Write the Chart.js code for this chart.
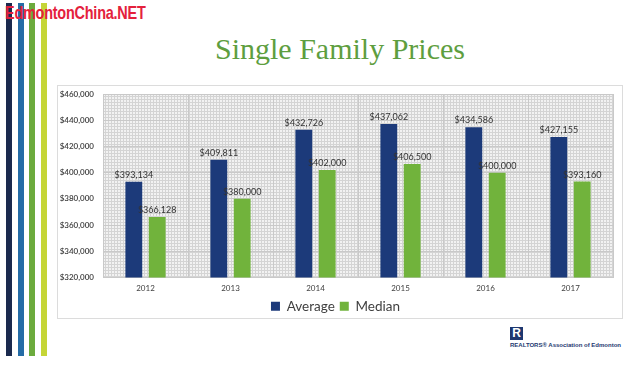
<!DOCTYPE html>
<html>
<head>
<meta charset="utf-8">
<script src="https://cdn.jsdelivr.net/npm/chart.js@4.4.0/dist/chart.umd.min.js"></script>
<style>
  html, body { margin: 0; padding: 0; background: #ffffff; }
  body { width: 634px; height: 369px; position: relative; overflow: hidden; }
  .stripe { position: absolute; top: 3px; height: 353px; width: 6px; }
  #wm { position: absolute; left: 5px; top: 2px; font-family: "Liberation Sans", Arial, sans-serif; font-weight: bold;
        font-size: 19px; color: #e4213c; transform: scaleX(0.76); transform-origin: 0 0; white-space: nowrap; letter-spacing: -0.3px; }
  #title { position: absolute; left: 0; width: 634px; top: 32px; text-align: center; padding-left: 46px; box-sizing: border-box;
           font-family: "Liberation Serif", "Times New Roman", serif; font-size: 30px; color: #5e9e3f; }
  #box { position: absolute; left: 57px; top: 85px; width: 564px; height: 232px; border: 1px solid #dcdcdc; }
  #logoR { position: absolute; left: 510px; top: 327px; width: 13px; height: 13px; background: #1d3770; color: #fff;
           font-family: "Liberation Sans", Arial, sans-serif; font-weight: bold; font-size: 12px; line-height: 13px; text-align: center; }
  #logoT { position: absolute; left: 510px; top: 342px; font-family: "Liberation Sans", Arial, sans-serif; font-weight: bold;
           font-size: 6px; color: #1d3770; white-space: nowrap; }
  canvas { position: absolute; left: 0; top: 0; }
</style>
</head>
<body>
<div class="stripe" style="left:6px;background:#1b2a4e"></div>
<div class="stripe" style="left:18px;background:#256ca6"></div>
<div class="stripe" style="left:29px;background:#6cab3d"></div>
<div class="stripe" style="left:41px;background:#c5d537"></div>
<div id="wm">EdmontonChina.NET</div>
<div id="title">Single Family Prices</div>
<div id="box"></div>
<div id="logoR">R</div>
<div id="logoT">REALTORS® Association of Edmonton</div>
<canvas id="c" width="634" height="369"></canvas>
<script>
const years = ['2012', '2013', '2014', '2015', '2016', '2017'];
const averagePrices = [393134, 409811, 432726, 437062, 434586, 427155];
const medianPrices = [366128, 380000, 402000, 406500, 400000, 393160];
const yMin = 320000;
const yMax = 460000;
const yStep = 20000;

const fmt = v => '$' + Number(v).toLocaleString('en-US');

const patternCanvas = document.createElement('canvas');
patternCanvas.width = 3; patternCanvas.height = 3;
const pctx = patternCanvas.getContext('2d');
pctx.fillStyle = '#f2f2f2';
pctx.fillRect(0, 0, 3, 3);
pctx.fillStyle = '#d4d4d4';
pctx.fillRect(0, 0, 3, 1);
pctx.fillRect(0, 0, 1, 3);

const bgPlugin = {
  id: 'plotBg',
  beforeDraw(chart) {
    const { ctx, chartArea: a } = chart;
    ctx.save();
    ctx.fillStyle = ctx.createPattern(patternCanvas, 'repeat');
    ctx.fillRect(a.left, a.top, a.right - a.left, a.bottom - a.top);
    ctx.restore();
  }
};

const labelPlugin = {
  id: 'valueLabels',
  afterDatasetsDraw(chart) {
    const { ctx } = chart;
    ctx.save();
    ctx.font = '9px Lato, "DejaVu Sans", sans-serif';
    ctx.fillStyle = '#333333';
    ctx.textAlign = 'center';
    ctx.textBaseline = 'middle';
    chart.data.datasets.forEach((ds, i) => {
      const meta = chart.getDatasetMeta(i);
      meta.data.forEach((el, j) => {
        ctx.fillText(fmt(ds.data[j]), el.x, el.y - 7);
      });
    });
    ctx.restore();
  }
};

new Chart(document.getElementById('c'), {
  type: 'bar',
  data: {
    labels: years,
    datasets: [
      { label: 'Average', data: averagePrices, backgroundColor: '#1c3a7a' },
      { label: 'Median', data: medianPrices, backgroundColor: '#71b33c' }
    ]
  },
  options: {
    responsive: false,
    animation: false,
    devicePixelRatio: 1,
    categoryPercentage: 0.55,
    barPercentage: 0.72,
    layout: { padding: { left: 58, top: 94, right: 21, bottom: 46 } },
    plugins: {
      legend: {
        position: 'bottom',
        labels: {
          boxWidth: 9, boxHeight: 9, padding: 5,
          color: '#404040',
          font: { family: 'Lato, "DejaVu Sans", sans-serif', size: 13.5 }
        }
      },
      tooltip: { enabled: false }
    },
    scales: {
      x: {
        afterFit(scale) { scale.height = 17; },
        grid: { display: true, offset: true, color: '#c9c9c9', drawTicks: false },
        border: { display: false },
        ticks: { color: '#404040', padding: 6, font: { family: 'Lato, "DejaVu Sans", sans-serif', size: 8 } }
      },
      y: {
        min: yMin, max: yMax,
        afterFit(scale) { scale.width = 45; },
        grid: { color: '#c9c9c9', drawTicks: false },
        border: { display: false },
        ticks: {
          stepSize: yStep, padding: 9, color: '#404040',
          font: { family: 'Lato, "DejaVu Sans", sans-serif', size: 8, weight: '600' },
          callback: v => fmt(v)
        }
      }
    }
  },
  plugins: [bgPlugin, labelPlugin]
});
</script>
</body>
</html>
